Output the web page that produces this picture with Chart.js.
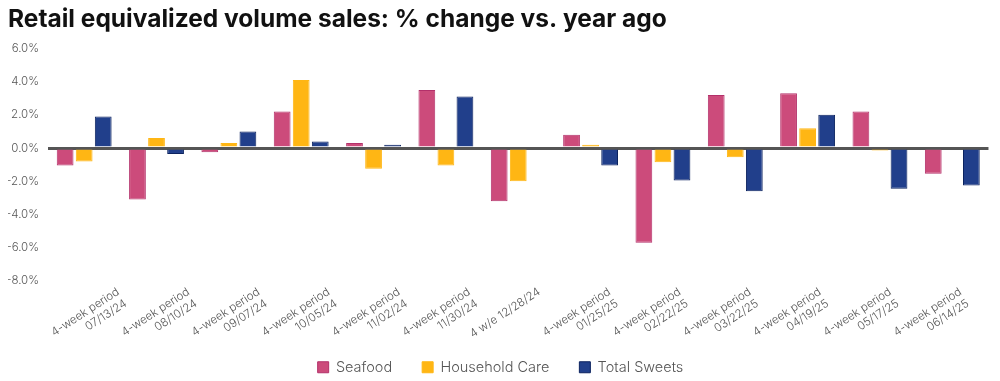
<!DOCTYPE html>
<html>
<head>
<meta charset="utf-8">
<script src="https://cdn.jsdelivr.net/npm/chart.js@4/dist/chart.umd.min.js"></script>
<style>
html,body{margin:0;padding:0;background:#fff;}
#wrap{width:1000px;height:381px;position:relative;}
</style>
</head>
<body>
<div id="wrap"><canvas id="c"></canvas></div>
<script>
const categories = [
  ["4-week period","07/13/24"],
  ["4-week period","08/10/24"],
  ["4-week period","09/07/24"],
  ["4-week period","10/05/24"],
  ["4-week period","11/02/24"],
  ["4-week period","11/30/24"],
  "4 w/e 12/28/24",
  ["4-week period","01/25/25"],
  ["4-week period","02/22/25"],
  ["4-week period","03/22/25"],
  ["4-week period","04/19/25"],
  ["4-week period","05/17/25"],
  ["4-week period","06/14/25"]
];
const seafood      = [-1.05, -3.1, -0.25, 2.2, 0.3, 3.5, -3.2, 0.8, -5.7, 3.2, 3.3, 2.2, -1.55];
const householdCare= [-0.8, 0.6, 0.3, 4.1, -1.25, -1.05, -2.0, 0.2, -0.85, -0.55, 1.2, -0.15, null];
const totalSweets  = [1.9, -0.35, 1.0, 0.4, 0.2, 3.1, null, -1.05, -1.95, -2.6, 2.0, -2.45, -2.25];
const yTicks = {min: -8, max: 6, step: 2};

const FONT = "Inter, 'Liberation Sans', Arial, sans-serif";

const legendPlace = {
  id: 'legendPlace',
  beforeLayout(chart) {
    const lg = chart.legend;
    if (lg && !lg._patched) {
      const orig = lg.fit;
      lg.fit = function () { orig.call(this); this.height = 30; };
      lg._patched = true;
    }
  },
  afterLayout(chart) {
    const lg = chart.legend;
    if (lg) { lg.top = 330; lg.bottom = 381; }
  }
};

new Chart(document.getElementById('c'), {
  type: 'bar',
  data: {
    labels: categories,
    datasets: [
      {label: 'Seafood', data: seafood, backgroundColor: '#cc4b7b', borderColor: '#b3306a', borderWidth: 1},
      {label: 'Household Care', data: householdCare, backgroundColor: '#ffb614', borderColor: '#ffb614', borderWidth: 1},
      {label: 'Total Sweets', data: totalSweets, backgroundColor: '#213f8b', borderColor: '#0c235f', borderWidth: 1}
    ]
  },
  plugins: [legendPlace],
  options: {
    responsive: true,
    maintainAspectRatio: false,
    animation: false,
    layout: {padding: {left: 8, right: 7, top: 5, bottom: 0}},
    datasets: {bar: {categoryPercentage: 0.79, barPercentage: 0.88}},
    plugins: {
      title: {
        display: true,
        text: 'Retail equivalized volume sales: % change vs. year ago',
        align: 'start',
        color: '#111',
        font: {family: FONT, size: 24.5, weight: 'bold'},
        padding: {top: 0, bottom: 14}
      },
      legend: {
        position: 'bottom',
        labels: {
          color: '#555',
          font: {family: FONT, size: 14.5, weight: 300},
          boxWidth: 11,
          boxHeight: 11,
          padding: 30
        }
      },
      tooltip: {enabled: false}
    },
    scales: {
      x: {
        display: false,
        grid: {display: false}
      },
      x2: {
        type: 'linear',
        position: 'bottom',
        offset: false,
        min: -1,
        max: 12.4,
        grid: {display: false, drawTicks: false, offset: false},
        border: {display: false},
        afterFit: s => { s.height = 70; },
        ticks: {
          stepSize: 0.2,
          autoSkip: false,
          color: '#555',
          font: {family: FONT, size: 11.5, weight: 300},
          maxRotation: 33, minRotation: 33,
          padding: 4,
          callback: v => Number.isInteger(v) && categories[v] !== undefined ? categories[v] : ''
        }
      },
      y: {
        min: yTicks.min, max: yTicks.max,
        border: {display: false},
        afterFit: s => { s.width = 40; },
        grid: {
          drawTicks: false,
          color: ctx => ctx.tick && ctx.tick.value === 0 ? '#555' : 'rgba(0,0,0,0)',
          lineWidth: ctx => ctx.tick && ctx.tick.value === 0 ? 3 : 0
        },
        ticks: {
          stepSize: yTicks.step,
          color: '#555',
          font: {family: FONT, size: 11.5, weight: 300},
          padding: 9,
          callback: v => v.toFixed(1) + '%'
        }
      }
    }
  }
});
</script>
</body>
</html>
